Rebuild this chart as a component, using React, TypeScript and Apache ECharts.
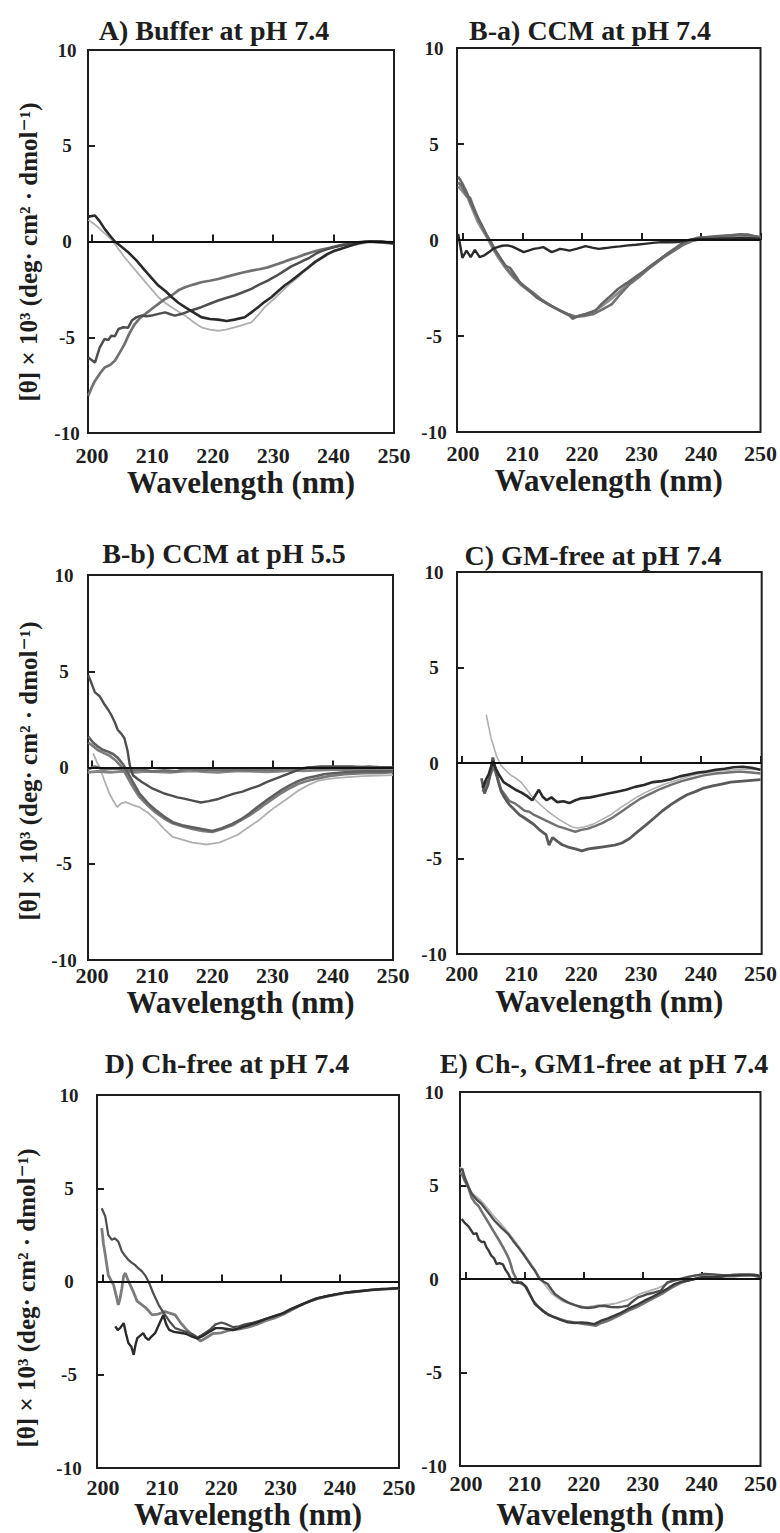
import React, { useEffect, useRef } from "react";
import * as echarts from "echarts";

// ---------- texts ----------
const TITLES = [
  "A) Buffer at pH 7.4",
  "B-a) CCM at pH 7.4",
  "B-b) CCM at pH 5.5",
  "C) GM-free at pH 7.4",
  "D) Ch-free at pH 7.4",
  "E) Ch-, GM1-free at pH 7.4",
];
const X_TICKS = [200, 210, 220, 230, 240, 250];
const X_NAME = "Wavelength (nm)";
const Y_NAME = "[θ] × 10³ (deg· cm² · dmol⁻¹)";

// ---------- data : [wavelength nm, [θ] x 10^3] ----------
// Panel A
const A_c1 = [[199.4,1.3],[200.5,1.36],[201.3,1.05],[202.1,0.66],[203,0.3],[203.8,0],[205,-0.3],[206,-0.56],[207.4,-1.0],[208.8,-1.52],[210,-1.95],[211,-2.3],[212.2,-2.6],[213.2,-2.9],[214.3,-3.2],[215.4,-3.43],[216.8,-3.7],[218.1,-3.95],[219.5,-4.05],[220.9,-4.08],[222.3,-4.15],[223.6,-4.08],[225.3,-3.96],[226.4,-3.7],[227.5,-3.43],[228.6,-3.15],[229.7,-2.91],[230.8,-2.6],[231.9,-2.3],[233,-2.05],[234,-1.8],[235,-1.55],[236,-1.3],[237,-1.05],[238,-0.85],[239,-0.65],[240,-0.5],[241,-0.4],[242,-0.3],[243,-0.2],[244,-0.1],[245,-0.03],[246,0],[247,0],[248,0],[249,-0.05],[250,-0.1]];
const A_c2 = [[199.4,1.13],[200.2,0.95],[201,0.75],[202,0.45],[203.2,0.12],[204.3,-0.35],[205.4,-0.82],[206.8,-1.35],[208.2,-1.87],[209.6,-2.4],[211,-2.91],[212.1,-3.2],[213.2,-3.43],[214.3,-3.65],[215.4,-3.87],[216.8,-4.2],[218.1,-4.48],[219.5,-4.6],[220.9,-4.66],[222.2,-4.6],[223.6,-4.48],[225,-4.35],[226.4,-4.22],[227.5,-3.85],[228.6,-3.43],[230.3,-2.95],[231.9,-2.47],[233,-2.15],[234,-1.9],[235,-1.6],[236,-1.35],[237,-1.1],[238,-0.9],[239,-0.7],[240,-0.55],[241,-0.42],[242,-0.3],[243,-0.22],[244,-0.15],[245,-0.1],[246,-0.05],[248,-0.08],[250,-0.1]];
const A_c3 = [[199.4,-6.06],[200.5,-6.32],[201.3,-5.53],[202.1,-5.09],[202.7,-5.15],[203.2,-4.92],[203.8,-4.95],[204.4,-4.57],[205.2,-4.48],[206,-4.5],[206.6,-4.13],[207.4,-3.95],[208.2,-3.87],[209,-3.9],[209.9,-3.87],[211,-3.78],[212.1,-3.7],[213,-3.8],[213.7,-3.87],[214.8,-3.79],[216.4,-3.6],[218.1,-3.43],[219.5,-3.25],[220.9,-3.08],[222.2,-2.95],[223.6,-2.82],[225,-2.65],[226.4,-2.47],[227.7,-2.25],[229.1,-2.04],[230.5,-1.8],[231.9,-1.52],[233,-1.3],[234,-1.15],[235,-1.0],[236,-0.85],[237,-0.65],[238,-0.5],[239,-0.4],[240,-0.3],[241.5,-0.2],[243,-0.1],[244.5,-0.05],[246,0],[248,-0.05],[250,-0.1]];
const A_c4 = [[199.4,-8.06],[200,-7.6],[200.5,-7.28],[201.3,-6.9],[202.1,-6.58],[203,-6.45],[203.8,-6.23],[204.6,-5.8],[205.4,-5.36],[206.2,-4.8],[207.1,-4.31],[208,-3.98],[208.8,-3.79],[210,-3.5],[211,-3.26],[212.1,-3.0],[213.2,-2.82],[214.3,-2.55],[215.4,-2.39],[216.8,-2.25],[218.1,-2.13],[219.5,-2.05],[220.9,-1.96],[222.2,-1.85],[223.6,-1.73],[225,-1.62],[226.4,-1.52],[227.7,-1.45],[229.1,-1.35],[230.5,-1.2],[231.9,-1.05],[233,-0.92],[234,-0.82],[235,-0.7],[236,-0.6],[237,-0.5],[238,-0.42],[239,-0.35],[240,-0.28],[241,-0.2],[242,-0.14],[243,-0.08],[244,-0.04],[245,0],[247,0],[250,-0.05]];

// Panel B-a
const Ba_flat = [[199.2,0.32],[199.9,-0.93],[200.6,-0.55],[201.3,-0.89],[202,-0.51],[202.8,-0.89],[203.6,-0.8],[204.4,-0.63],[205.1,-0.45],[205.8,-0.37],[206.6,-0.3],[207.5,-0.28],[208.3,-0.35],[209.1,-0.46],[210.2,-0.63],[211,-0.55],[211.9,-0.46],[212.7,-0.42],[213.5,-0.37],[214.2,-0.5],[214.9,-0.63],[215.6,-0.55],[216.3,-0.46],[217.1,-0.5],[217.9,-0.55],[219.2,-0.45],[220.6,-0.32],[221.7,-0.4],[222.8,-0.46],[224,-0.42],[225.1,-0.37],[226.4,-0.33],[227.8,-0.28],[229.1,-0.25],[230.5,-0.2],[231.9,-0.15],[233.3,-0.11],[234.6,-0.12],[236,-0.11],[237.1,-0.05],[238.2,0.02],[240,0.05],[242,0.05],[244,0.08],[246,0.1],[248,0.1],[250,0.05]];
const Ba_g1 = [[199.2,3.3],[199.8,3.0],[200.6,2.5],[201.4,1.9],[202.2,1.34],[203,0.85],[203.9,0.3],[204.7,-0.1],[205.5,-0.6],[206.4,-1.0],[207.2,-1.35],[207.9,-1.45],[208.8,-1.85],[209.7,-2.28],[211,-2.6],[212.4,-3.0],[213.8,-3.25],[215.2,-3.5],[216.5,-3.7],[217.9,-3.93],[218.4,-4.1],[219.5,-3.95],[220.6,-3.85],[222.3,-3.67],[223.4,-3.3],[224.5,-3.0],[226.1,-2.54],[227.5,-2.25],[228.9,-1.94],[230.3,-1.64],[231.6,-1.33],[233,-1.02],[234.3,-0.72],[235.7,-0.42],[237.1,-0.11],[238.2,0.0],[239.3,0.11],[241,0.15],[243,0.2],[245,0.25],[246.5,0.3],[248,0.28],[250,0.1]];
const Ba_g2 = [[199.2,3.0],[199.8,2.8],[200.6,2.3],[201.2,2.2],[201.8,1.7],[202.6,1.1],[203.5,0.55],[204.4,0.0],[205.3,-0.45],[206.3,-0.95],[207.4,-1.5],[208.8,-2.0],[210.3,-2.4],[211.8,-2.75],[213.2,-3.1],[214.7,-3.4],[216.2,-3.65],[217.6,-3.85],[219,-4.0],[220.5,-3.95],[222,-3.85],[223.5,-3.6],[225,-3.35],[226.5,-2.8],[228,-2.3],[229.5,-1.95],[231,-1.55],[232.5,-1.2],[234,-0.85],[235.5,-0.55],[237,-0.25],[238.5,-0.05],[240,0.05],[242,0.1],[244,0.2],[246,0.25],[248,0.25],[250,0.15]];
const Ba_g3 = [[199.2,2.8],[200,2.5],[200.8,2.2],[201.6,1.6],[202.4,1.0],[203.3,0.5],[204.2,0.05],[205.1,-0.5],[206,-0.95],[207,-1.4],[208.3,-1.9],[209.8,-2.35],[211.3,-2.7],[212.8,-3.05],[214.3,-3.35],[215.8,-3.6],[217.3,-3.85],[218.8,-4.0],[220.3,-3.9],[221.8,-3.75],[223.3,-3.45],[224.8,-3.1],[226.3,-2.7],[227.8,-2.3],[229.3,-1.9],[230.8,-1.55],[232.3,-1.2],[233.8,-0.85],[235.3,-0.55],[236.8,-0.25],[238.3,-0.05],[240,0.08],[242,0.12],[244,0.18],[246,0.25],[248,0.2],[250,0.1]];

// Panel B-b
const Bb_c1 = [[199.4,4.8],[199.9,4.4],[200.5,3.9],[201.3,3.7],[202.1,3.27],[202.7,3.0],[203.2,2.74],[203.8,2.35],[204.3,1.95],[204.9,1.75],[205.4,1.52],[205.9,0.9],[206.3,0.1],[206.8,-0.4],[207.6,-0.6],[208.3,-0.75],[209.3,-0.95],[210.1,-1.1],[210.9,-1.2],[212,-1.35],[213.1,-1.45],[214.2,-1.55],[215.3,-1.62],[216.7,-1.72],[218.1,-1.82],[219.4,-1.75],[220.8,-1.65],[222.2,-1.5],[223.6,-1.36],[225,-1.25],[226.3,-1.1],[227.7,-0.95],[229.1,-0.75],[230.5,-0.58],[231.8,-0.42],[233.2,-0.25],[234.5,-0.1],[236,0.0],[238,0.05],[240,0.05],[243,0.05],[246,0.0],[250,0.0]];
const Bb_c2 = [[199.4,1.6],[200.2,1.3],[201,1.08],[201.8,0.92],[202.7,0.82],[203.5,0.7],[204.3,0.5],[205.2,0.15],[206,-0.3],[206.8,-0.75],[207.9,-1.36],[209.3,-1.85],[210.7,-2.24],[212,-2.55],[213.4,-2.84],[215,-3.0],[216.7,-3.1],[218.3,-3.2],[220,-3.3],[221.6,-3.15],[223.3,-2.93],[224.7,-2.7],[226.1,-2.4],[227.5,-2.05],[228.8,-1.75],[230.2,-1.45],[231.6,-1.15],[233,-0.9],[234.3,-0.7],[235.7,-0.55],[237.1,-0.45],[238.5,-0.35],[240,-0.3],[242,-0.25],[245,-0.2],[248,-0.2],[250,-0.2]];
const Bb_c3 = [[199.4,1.3],[200.2,1.1],[201,0.9],[202,0.75],[203,0.6],[204,0.35],[205,0.0],[205.8,-0.45],[206.7,-0.95],[207.8,-1.5],[209.2,-1.95],[210.6,-2.35],[212,-2.65],[213.4,-2.9],[215,-3.05],[216.7,-3.2],[218.3,-3.3],[220,-3.35],[221.6,-3.2],[223.3,-3.0],[224.7,-2.75],[226.1,-2.5],[227.5,-2.2],[228.8,-1.9],[230.2,-1.6],[231.6,-1.3],[233,-1.05],[234.3,-0.85],[235.7,-0.7],[237.1,-0.6],[238.5,-0.5],[240,-0.42],[242,-0.35],[245,-0.3],[248,-0.28],[250,-0.25]];
const Bb_c4 = [[200.2,0.73],[200.8,0.3],[201.3,0.0],[202.1,-0.7],[202.9,-1.36],[203.5,-1.7],[204.2,-2.06],[204.9,-1.85],[205.6,-1.8],[206.8,-1.95],[207.9,-2.06],[209.3,-2.35],[210.7,-2.75],[212,-3.2],[213.4,-3.6],[215,-3.75],[216.7,-3.9],[218,-3.95],[219,-4.0],[220,-3.95],[221.1,-3.9],[222.7,-3.7],[224.4,-3.46],[226,-3.1],[227.7,-2.75],[229,-2.4],[230.4,-2.06],[232.3,-1.65],[234.3,-1.2],[236,-0.9],[237.5,-0.7],[239,-0.6],[240.5,-0.55],[242.5,-0.5],[245,-0.45],[247.5,-0.42],[250,-0.4]];
const Bb_flat1 = [[199.3,-0.1],[200.5,0.05],[202,-0.1],[204,-0.05],[206,-0.15],[208,-0.1],[210,-0.2],[212,-0.15],[214,-0.2],[216,-0.05],[218,-0.15],[220,-0.1],[222,-0.15],[224,-0.1],[226,-0.15],[228,-0.1],[230,-0.15],[232,-0.05],[234,-0.1],[236,0.0],[238,-0.05],[240,0.0],[242,-0.05],[244,0.0],[246,0.05],[248,0.0],[250,0.0]];
const Bb_flat2 = [[199.3,-0.25],[201,-0.2],[203,-0.25],[205,-0.2],[207,-0.25],[209,-0.2],[211,-0.22],[213,-0.25],[215,-0.2],[217,-0.18],[219,-0.22],[221,-0.25],[223,-0.2],[225,-0.18],[227,-0.2],[229,-0.22],[231,-0.2],[233,-0.15],[235,-0.18],[237,-0.15],[239,-0.12],[241,-0.1],[243,-0.12],[245,-0.1],[247,-0.08],[250,-0.1]];

// Panel C
const C_c1 = [[203.5,-1.3],[204,-0.9],[204.5,-0.6],[205.2,0.1],[205.7,-0.3],[206.2,-0.6],[207,-1.0],[208,-1.2],[209,-1.4],[210,-1.55],[211,-1.75],[211.8,-1.95],[212.9,-1.4],[213.5,-1.75],[214.2,-1.95],[215,-1.8],[216,-2.05],[217,-2.0],[218,-2.1],[219,-1.95],[220,-1.85],[221.5,-1.8],[223,-1.7],[224.5,-1.6],[226,-1.5],[227.5,-1.4],[229,-1.25],[230.5,-1.15],[232,-1.0],[233.5,-0.95],[235,-0.85],[236.5,-0.7],[238,-0.6],[239.5,-0.5],[241,-0.45],[242.5,-0.35],[244,-0.3],[245.5,-0.22],[247,-0.2],[248.5,-0.25],[250,-0.35]];
const C_c2 = [[204.1,2.53],[204.5,1.9],[204.9,1.3],[205.3,0.9],[205.8,0.38],[206.6,-0.14],[207.4,-0.4],[208.3,-0.66],[209.1,-0.8],[209.9,-1.0],[210.8,-1.35],[211.6,-1.7],[212.4,-1.95],[213.2,-2.2],[214.3,-2.5],[215.4,-2.75],[216.5,-3.0],[217.6,-3.2],[218.5,-3.35],[219.3,-3.4],[220.5,-3.35],[222,-3.2],[223.5,-2.95],[225,-2.7],[226.5,-2.35],[228,-2.05],[229.5,-1.75],[231,-1.5],[232.5,-1.3],[234,-1.1],[235.5,-0.95],[237,-0.8],[238.5,-0.65],[240,-0.55],[242,-0.45],[244,-0.38],[246,-0.35],[248,-0.32],[250,-0.35]];
const C_c3 = [[203.5,-1.5],[204,-1.1],[204.5,-0.9],[205.3,-0.2],[206,-0.8],[206.6,-1.4],[207.2,-1.65],[208,-2.0],[208.8,-2.1],[209.5,-2.25],[210.5,-2.5],[211.3,-2.55],[212,-2.7],[213,-2.85],[214,-3.0],[215,-3.15],[216,-3.3],[217,-3.4],[218,-3.5],[219,-3.6],[220,-3.5],[221,-3.45],[222.3,-3.3],[223.5,-3.15],[225,-2.9],[226.7,-2.55],[228.3,-2.2],[230,-1.85],[231.6,-1.6],[233.3,-1.35],[235,-1.15],[236.8,-0.95],[238.6,-0.8],[240.5,-0.65],[242.5,-0.55],[244.5,-0.5],[246.5,-0.45],[248.5,-0.5],[250,-0.55]];
const C_c4 = [[203.3,-0.8],[203.8,-1.6],[204.4,-1.13],[204.8,-0.5],[205.2,0.29],[205.6,-0.3],[206.1,-0.96],[206.6,-1.5],[207.2,-1.83],[208,-2.2],[208.8,-2.44],[209.6,-2.7],[210.5,-2.88],[211.3,-3.05],[212.1,-3.23],[213,-3.5],[214.1,-3.75],[214.6,-4.3],[215.2,-3.9],[216,-4.1],[216.8,-4.28],[217.8,-4.4],[219,-4.5],[220.1,-4.6],[221.2,-4.5],[222.3,-4.45],[223.4,-4.4],[224.5,-4.35],[225.6,-4.3],[226.8,-4.19],[228.1,-3.95],[229.5,-3.58],[230.8,-3.25],[232.2,-2.88],[233.6,-2.5],[235,-2.18],[236.4,-1.9],[237.7,-1.66],[239.1,-1.5],[240.5,-1.31],[242,-1.2],[243.5,-1.1],[245,-1.0],[246.5,-0.96],[248,-0.92],[250,-0.87]];

// Panel D
const D_c1 = [[199.8,3.93],[200.4,3.49],[200.9,2.5],[201.5,2.23],[202,2.32],[202.6,2.14],[203.2,1.61],[203.8,1.35],[204.3,1.16],[204.9,1.0],[205.4,0.89],[206,0.7],[206.6,0.54],[207.2,0.3],[207.7,0.0],[208.5,-0.63],[209.4,-1.25],[210,-1.55],[210.5,-1.79],[211.4,-2.2],[212.2,-2.5],[213.1,-2.6],[213.9,-2.68],[215,-2.8],[216,-3.0],[216.8,-2.85],[218,-2.6],[219,-2.3],[220,-2.2],[221,-2.3],[222,-2.45],[223,-2.4],[224,-2.3],[225.4,-2.2],[227,-2.05],[228.5,-1.9],[230,-1.75],[231.5,-1.5],[233,-1.3],[234.5,-1.1],[236,-0.9],[237.5,-0.8],[239,-0.7],[240.5,-0.62],[242,-0.55],[243.5,-0.5],[245,-0.45],[246.5,-0.42],[248,-0.4],[250,-0.35]];
const D_c2 = [[199.8,2.86],[200.1,2.0],[200.4,1.43],[200.9,0.36],[201.3,0.1],[201.8,-0.18],[202.2,-0.7],[202.6,-1.25],[202.9,-0.9],[203.2,-0.36],[203.5,0.3],[203.8,0.45],[204.2,0.1],[204.6,-0.18],[205.2,-0.6],[205.8,-1.07],[206.6,-1.25],[207.4,-1.45],[208.3,-1.79],[209.3,-1.75],[210.5,-1.61],[211.3,-1.7],[212.2,-1.79],[213.1,-2.2],[213.9,-2.5],[215,-2.85],[216.5,-3.2],[217.5,-3.0],[218.5,-2.8],[220,-2.75],[221.5,-2.6],[223,-2.55],[224.5,-2.45],[226,-2.3],[227.5,-2.1],[229,-1.95],[230.5,-1.75],[232,-1.5],[233.5,-1.25],[235,-1.05],[236.5,-0.9],[238,-0.78],[239.5,-0.7],[241,-0.6],[242.5,-0.55],[244,-0.5],[245.5,-0.45],[247,-0.42],[248.5,-0.4],[250,-0.38]];
const D_c3 = [[202.1,-2.41],[202.5,-2.6],[202.9,-2.5],[203.5,-2.23],[203.9,-2.8],[204.3,-3.3],[204.8,-3.5],[205.2,-3.93],[205.5,-3.4],[205.8,-3.04],[206.3,-2.9],[206.8,-2.77],[207.2,-3.0],[207.7,-3.13],[208.2,-2.95],[208.8,-2.77],[209.2,-2.5],[209.7,-2.14],[210.2,-1.8],[210.7,-2.3],[211.2,-2.6],[212,-2.7],[213,-2.75],[214,-2.8],[215,-2.95],[216,-3.05],[217,-2.9],[218,-2.7],[219,-2.5],[220,-2.5],[221,-2.55],[222,-2.6],[223,-2.5],[224.5,-2.35],[226,-2.2],[227.5,-2.0],[229,-1.85],[230.5,-1.7],[232,-1.45],[233.5,-1.25],[235,-1.05],[236.5,-0.88],[238,-0.78],[239.5,-0.68],[241,-0.6],[242.5,-0.55],[244,-0.5],[245.5,-0.45],[247,-0.4],[248.5,-0.38],[250,-0.35]];

// Panel E
const E_c1 = [[199.3,3.21],[199.8,3.0],[200.4,2.83],[200.9,2.6],[201.3,2.4],[201.8,2.45],[202.2,2.1],[202.7,1.97],[203.1,2.0],[203.5,1.69],[203.9,1.5],[204.3,1.25],[204.8,1.1],[205.2,0.8],[205.7,0.85],[206.3,0.78],[206.7,0.5],[207.2,0.27],[207.6,0.0],[208,-0.18],[208.7,-0.2],[209.4,-0.18],[210.3,-0.45],[211,-0.9],[211.7,-1.34],[212.5,-1.55],[213.4,-1.78],[214.2,-1.95],[215.1,-2.05],[216.2,-2.2],[217.3,-2.32],[218.5,-2.35],[219.6,-2.32],[220.7,-2.35],[221.8,-2.41],[223,-2.23],[224.1,-2.1],[225.2,-1.96],[226.4,-1.8],[227.5,-1.6],[228.9,-1.4],[230.3,-1.16],[231.7,-0.95],[233.1,-0.71],[234.3,-0.5],[235.4,-0.27],[236.5,-0.15],[237.6,-0.09],[238.8,0.0],[239.9,0.09],[241.5,0.1],[243,0.12],[244.5,0.18],[246,0.2],[247.5,0.2],[249,0.22],[250,0.15]];
const E_c2 = [[199,5.7],[199.4,5.55],[199.8,5.26],[200.4,4.9],[200.96,4.37],[201.5,4.1],[202.1,3.92],[202.9,3.5],[203.8,3.03],[204.6,2.6],[205.5,2.14],[206.3,1.7],[207.2,1.16],[207.6,0.8],[208,0.36],[208.5,0.05],[208.9,-0.18],[209.5,-0.25],[210,-0.36],[210.7,-0.75],[211.4,-1.16],[212.2,-1.45],[213,-1.7],[214,-1.9],[215,-2.05],[216,-2.15],[217,-2.25],[218,-2.3],[219,-2.35],[220,-2.4],[221,-2.45],[222,-2.5],[223,-2.35],[224,-2.25],[225,-2.1],[226.3,-1.9],[227.5,-1.7],[229,-1.5],[230.5,-1.25],[232,-1.0],[233.5,-0.75],[235,-0.45],[236.5,-0.2],[238,-0.05],[239.5,0.05],[241,0.05],[242.5,0.1],[244,0.15],[245.5,0.15],[247,0.2],[248.5,0.2],[250,0.1]];
const E_c3 = [[199,5.8],[199.4,5.9],[199.8,5.4],[200.4,4.95],[201,4.55],[201.8,4.25],[202.7,4.0],[203.8,3.55],[204.9,3.1],[206,2.75],[207.2,2.4],[208,2.05],[208.9,1.69],[209.7,1.35],[210.5,0.98],[211.1,0.7],[211.7,0.45],[212.5,0.0],[213.2,-0.15],[213.9,-0.27],[214.5,-0.55],[215.1,-0.8],[216.2,-1.05],[217.3,-1.25],[218.5,-1.4],[219.6,-1.51],[220.7,-1.55],[221.8,-1.51],[222.6,-1.45],[223.5,-1.43],[224.6,-1.5],[225.8,-1.51],[226.6,-1.48],[227.5,-1.43],[228.3,-1.2],[229.2,-0.98],[230,-0.9],[230.9,-0.8],[232,-0.72],[233.1,-0.62],[233.6,-0.4],[234.2,-0.18],[235.3,-0.08],[236.5,0.0],[237.6,0.1],[238.8,0.18],[240.5,0.27],[242,0.25],[243.5,0.2],[245,0.22],[246.5,0.25],[248,0.25],[249.5,0.2],[250,0.1]];
const E_c4 = [[199,6.0],[199.5,5.7],[200,5.35],[200.8,4.7],[201.6,4.45],[202.5,4.2],[203.5,3.85],[204.5,3.45],[205.5,3.1],[206.5,2.75],[207.5,2.35],[208.5,1.95],[209.5,1.5],[210.5,1.05],[211.5,0.6],[212.5,0.1],[213.5,-0.35],[214.5,-0.75],[215.5,-1.0],[216.5,-1.2],[217.5,-1.3],[218.5,-1.4],[219.5,-1.45],[220.5,-1.5],[221.5,-1.45],[222.5,-1.4],[223.5,-1.38],[224.5,-1.35],[225.5,-1.3],[226.5,-1.2],[227.5,-1.1],[228.5,-0.95],[229.5,-0.8],[230.5,-0.7],[231.5,-0.6],[232.5,-0.5],[233.5,-0.35],[234.5,-0.2],[235.5,-0.05],[236.5,0.05],[238,0.15],[239.5,0.2],[241,0.2],[242.5,0.15],[244,0.18],[245.5,0.2],[247,0.22],[248.5,0.2],[250,0.12]];

// ---------- layout & styles ----------
const FONT = "Liberation Serif, Times New Roman, DejaVu Serif, serif";
const INK = "#1e1e1e";

const DARK = "#2a2a2a";
const DGRAY = "#4e4e4e";
const MGRAY = "#717171";
const LGRAY = "#b0b0b0";

const PANELS = [
  { cx: 209, ty: 11, left: 88, top: 50, width: 306, height: 383, xMin: 199.35, xMax: 250, yName: [28, 252], xLabelMargin: 11, xNameGap: 33, yLabelMargin: 21,
    curves: [[A_c2, LGRAY, 1.8], [A_c4, MGRAY, 2.7], [A_c3, DGRAY, 2.5], [A_c1, DARK, 2.6]] },
  { cx: 585, ty: 11, left: 457, top: 48, width: 309, height: 384, xMin: 199.0, xMax: 250, yName: null, xLabelMargin: 10, xNameGap: 32, yLabelMargin: 23,
    curves: [[Ba_g3, "#8e8e8e", 2.6], [Ba_g2, MGRAY, 2.6], [Ba_g1, "#666666", 2.6], [Ba_flat, DARK, 2.4]] },
  { cx: 219, ty: 534, left: 88, top: 575, width: 305, height: 385, xMin: 199.35, xMax: 250, yName: [28, 771], xLabelMargin: 4, xNameGap: 25, yLabelMargin: 24,
    curves: [[Bb_c4, LGRAY, 1.8], [Bb_flat2, "#858585", 2.8], [Bb_flat1, MGRAY, 2.8], [Bb_c3, "#7a7a7a", 2.6], [Bb_c2, "#606060", 2.6], [Bb_c1, DGRAY, 2.4]] },
  { cx: 588, ty: 536, left: 457, top: 572, width: 308, height: 382, xMin: 199.2, xMax: 250.2, yName: null, xLabelMargin: 8, xNameGap: 32, yLabelMargin: 23,
    curves: [[C_c2, LGRAY, 1.6], [C_c3, MGRAY, 2.4], [C_c4, "#5a5a5a", 2.8], [C_c1, DARK, 2.6]] },
  { cx: 222, ty: 1044, left: 97, top: 1095, width: 302, height: 373, xMin: 199.0, xMax: 250, yName: [26, 1298], xLabelMargin: 8, xNameGap: 30, yLabelMargin: 28,
    curves: [[D_c2, "#7c7c7c", 2.8], [D_c1, DGRAY, 2.2], [D_c3, DARK, 2.4]] },
  { cx: 599, ty: 1044, left: 460, top: 1092, width: 302, height: 374, xMin: 199.0, xMax: 250, yName: null, xLabelMargin: 6, xNameGap: 33, yLabelMargin: 26,
    curves: [[E_c4, LGRAY, 1.8], [E_c2, MGRAY, 2.6], [E_c3, DGRAY, 2.4], [E_c1, "#3a3a3a", 2.4]] },
];

function buildOption() {
  const title: any[] = [];
  const grid: any[] = [];
  const xAxis: any[] = [];
  const yAxis: any[] = [];
  const series: any[] = [];
  const graphic: any[] = [];

  PANELS.forEach((p, i) => {
    title.push({
      text: TITLES[i],
      left: p.cx,
      top: p.ty,
      textAlign: "center",
      textStyle: { fontFamily: FONT, fontWeight: "bold", fontSize: 28, color: INK },
    });
    grid.push({
      left: p.left, top: p.top, width: p.width, height: p.height,
      show: true, borderColor: INK, borderWidth: 2, backgroundColor: "transparent",
      containLabel: false,
    });
    xAxis.push({
      type: "value", gridIndex: i, min: p.xMin, max: p.xMax,
      axisLine: { show: false },
      splitLine: { show: false },
      axisTick: { show: true, inside: true, length: 7, customValues: X_TICKS, lineStyle: { color: INK, width: 2 } },
      axisLabel: {
        show: true, customValues: X_TICKS, margin: p.xLabelMargin,
        fontFamily: FONT, fontWeight: "bold", fontSize: 22, color: INK,
        showMinLabel: true, showMaxLabel: true,
      },
      name: X_NAME, nameLocation: "middle", nameGap: p.xNameGap,
      nameTextStyle: { fontFamily: FONT, fontWeight: "bold", fontSize: 31, color: INK, verticalAlign: "top" },
    });
    yAxis.push({
      type: "value", gridIndex: i, min: -10, max: 10, interval: 5,
      axisLine: { show: false },
      splitLine: { show: false },
      axisTick: { show: true, inside: true, length: 7, lineStyle: { color: INK, width: 2 } },
      axisLabel: {
        show: true, margin: p.yLabelMargin, align: "center",
        fontFamily: FONT, fontWeight: "bold", fontSize: 19, color: INK,
      },
    });
    if (p.yName) {
      graphic.push({
        type: "text",
        x: p.yName[0],
        y: p.yName[1],
        rotation: Math.PI / 2,
        style: {
          text: Y_NAME,
          fontFamily: FONT, fontWeight: "bold", fontSize: 25, fill: INK,
          textAlign: "center", textVerticalAlign: "middle",
        },
      });
    }
    p.curves.forEach((c: any, j: number) => {
      const s: any = {
        type: "line", xAxisIndex: i, yAxisIndex: i,
        data: c[0], showSymbol: false, symbol: "none", silent: true,
        lineStyle: { color: c[1], width: c[2] },
        z: 2 + j,
      };
      if (j === 0) {
        s.markLine = {
          silent: true, symbol: ["none", "none"], label: { show: false },
          lineStyle: { color: "#111", width: 2, type: "solid" },
          data: [{ yAxis: 0 }],
          z: 10,
        };
      }
      series.push(s);
    });
  });

  return {
    animation: false,
    backgroundColor: "#ffffff",
    title, grid, xAxis, yAxis, series, graphic,
  };
}

export default function App() {
  const ref = useRef<HTMLDivElement>(null);
  useEffect(() => {
    if (!ref.current) return;
    const chart = echarts.init(ref.current, null, { renderer: "svg" });
    chart.setOption(buildOption() as any);
    return () => chart.dispose();
  }, []);
  return (
    <div
      ref={ref}
      style={{ position: "absolute", left: 0, top: 0, width: 780, height: 1533, background: "#fff" }}
    />
  );
}
